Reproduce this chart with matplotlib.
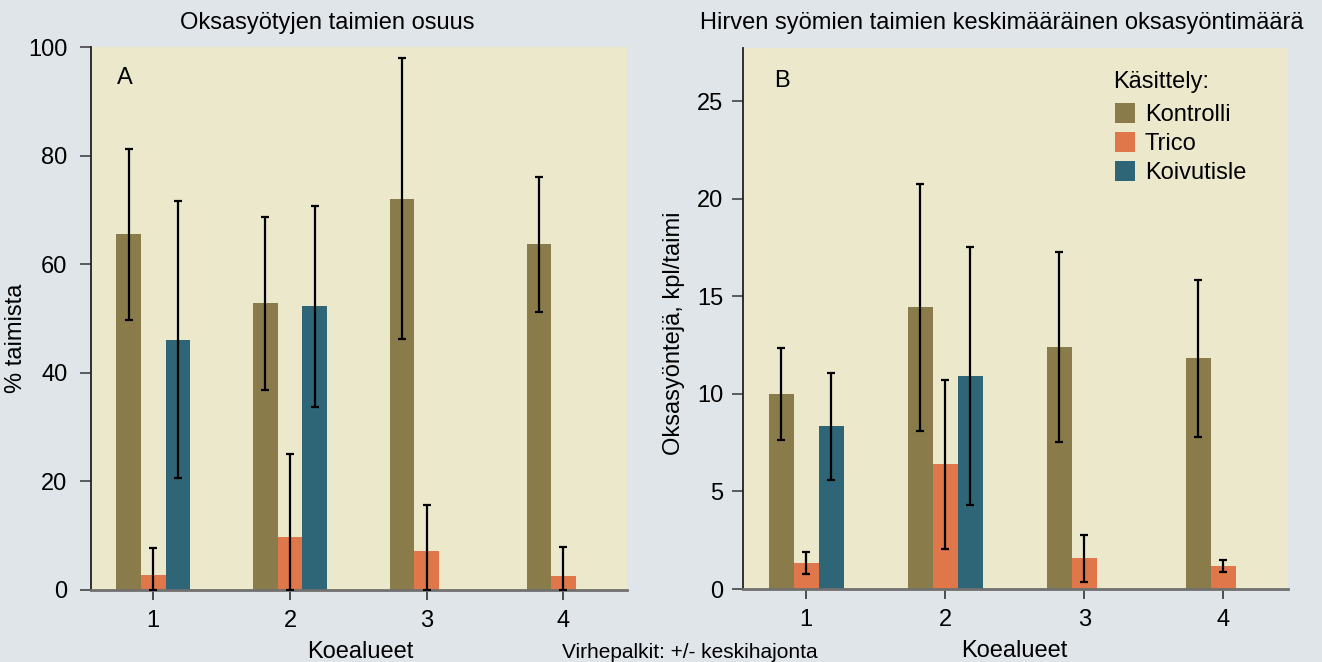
import matplotlib
matplotlib.use("Agg")
import matplotlib.pyplot as plt
import numpy as np
from matplotlib.patches import Patch

plt.rcParams['font.family'] = ['Liberation Sans', 'DejaVu Sans']

# ---- data ----
areas = [1, 2, 3, 4]
area_labels = ["1", "2", "3", "4"]
series = ["Kontrolli", "Trico", "Koivutisle"]

# Panel A: % of seedlings with branch browsing
kontrolli_A = [65.6, 52.9, 72.0, 63.7]
kontrolli_A_lo = [49.7, 36.8, 46.3, 51.2]
kontrolli_A_hi = [81.2, 68.7, 98.0, 76.1]
trico_A = [2.8, 9.8, 7.2, 2.6]
trico_A_lo = [0.0, 0.0, 0.0, 0.0]
trico_A_hi = [7.7, 25.1, 15.6, 7.9]
koiv_areas = [1, 2]
koiv_A = [46.0, 52.3]
koiv_A_lo = [20.6, 33.7]
koiv_A_hi = [71.6, 70.7]

# Panel B: mean number of browsed shoots
kontrolli_B = [10.0, 14.46, 12.41, 11.85]
kontrolli_B_lo = [7.64, 8.1, 7.54, 7.79]
kontrolli_B_hi = [12.36, 20.77, 17.28, 15.85]
trico_B = [1.33, 6.41, 1.59, 1.18]
trico_B_lo = [0.77, 2.05, 0.36, 0.87]
trico_B_hi = [1.9, 10.72, 2.77, 1.49]
koiv_B = [8.36, 10.92]
koiv_B_lo = [5.59, 4.31]
koiv_B_hi = [11.08, 17.54]

colors = {"Kontrolli": "#8a7b4a", "Trico": "#df774a", "Koivutisle": "#2e6577"}
BG = "#dfe5e9"
FACE = "#ece8cc"
W = 0.18

FS = 17

fig = plt.figure(figsize=(13.22, 6.62), dpi=100, facecolor=BG)
PX_W, PX_H = 1322, 662

def ax_px(l, t, r, b):
    return fig.add_axes([l / PX_W, 1 - b / PX_H, (r - l) / PX_W, (b - t) / PX_H])

axA = ax_px(91, 47, 627, 590)
axB = ax_px(743, 47.5, 1288, 589)

def draw(ax, k, klo, khi, t, tlo, thi, kv, kvlo, kvhi, ylim, yticks, ypad):
    ax.set_facecolor(FACE)
    x = np.array(areas, dtype=float)
    xk = np.array(koiv_areas, dtype=float)
    ax.bar(x - W, k, W, color=colors["Kontrolli"], zorder=2)
    ax.bar(x, t, W, color=colors["Trico"], zorder=2)
    ax.bar(xk + W, kv, W, color=colors["Koivutisle"], zorder=2)
    ekw = dict(fmt="none", ecolor="black", elinewidth=1.6, capsize=2.6, capthick=1.6, zorder=3)
    ax.errorbar(x - W, k, yerr=[np.array(k) - np.array(klo), np.array(khi) - np.array(k)], **ekw)
    ax.errorbar(x, t, yerr=[np.array(t) - np.array(tlo), np.array(thi) - np.array(t)], **ekw)
    ax.errorbar(xk + W, kv, yerr=[np.array(kv) - np.array(kvlo), np.array(kvhi) - np.array(kv)], **ekw)
    ax.set_xlim(0.545, 4.465)
    ax.set_ylim(*ylim)
    ax.set_yticks(yticks)
    ax.set_xticks(areas)
    ax.set_xticklabels(area_labels)
    for s in ["top", "right"]:
        ax.spines[s].set_visible(False)
    ax.spines["left"].set_color("#222222")
    ax.spines["left"].set_linewidth(1.3)
    ax.spines["bottom"].set_color("#707070")
    ax.spines["bottom"].set_linewidth(2.0)
    ax.tick_params(axis="y", direction="out", length=8, width=1.2, color="#444444",
                   labelsize=FS, pad=ypad)
    ax.tick_params(axis="x", direction="out", length=7.5, width=1.2, color="#333333",
                   labelsize=FS, pad=7)
    ax.set_xlabel("Koealueet", fontsize=FS)

draw(axA, kontrolli_A, kontrolli_A_lo, kontrolli_A_hi, trico_A, trico_A_lo, trico_A_hi,
     koiv_A, koiv_A_lo, koiv_A_hi, (0, 100), [0, 20, 40, 60, 80, 100], 9)
draw(axB, kontrolli_B, kontrolli_B_lo, kontrolli_B_hi, trico_B, trico_B_lo, trico_B_hi,
     koiv_B, koiv_B_lo, koiv_B_hi, (0, 27.75), [0, 5, 10, 15, 20, 25], 6)

axA.xaxis.set_label_coords((360 - 91) / 536, -(641 - 590) / 543)
axB.xaxis.set_label_coords((1014 - 743) / 545, -(640 - 589) / 541.5)

axA.set_ylabel("% taimista", fontsize=FS)
axB.set_ylabel("Oksasyöntejä, kpl/taimi", fontsize=FS)
axA.yaxis.set_label_coords((16 - 91) / 536, (590 - 338) / 543)
axB.yaxis.set_label_coords((674 - 743) / 545, (589 - 333.5) / 541.5)
axA.yaxis.label.set_va("center")
axB.yaxis.label.set_va("center")

def ftext(xp, yp, s, **kw):
    fig.text(xp / PX_W, 1 - yp / PX_H, s, **kw)

ftext(327.5, 23, "Oksasyötyjen taimien osuus", fontsize=FS, ha="center", va="center")
ftext(1002, 23, "Hirven syömien taimien keskimääräinen oksasyöntimäärä", fontsize=FS,
      ha="center", va="center")
ftext(117, 78, "A", fontsize=FS, ha="left", va="center")
ftext(774, 81, "B", fontsize=FS, ha="left", va="center")
ftext(690, 653, "Virhepalkit: +/- keskihajonta", fontsize=15, ha="center", va="center")
ftext(1113, 82, "Käsittely:", fontsize=FS, ha="left", va="center")

handles = [Patch(facecolor=colors[s], edgecolor="none") for s in series]
leg = axB.legend(handles, series, loc="upper left",
                 bbox_to_anchor=(1115 / PX_W, 1 - 103 / PX_H), bbox_transform=fig.transFigure,
                 frameon=False, fontsize=FS,
                 handlelength=0.85, handleheight=0.93, handletextpad=0.42,
                 labelspacing=0.24, borderpad=0, borderaxespad=0)

fig.savefig("out.png", dpi=100, facecolor=BG)
